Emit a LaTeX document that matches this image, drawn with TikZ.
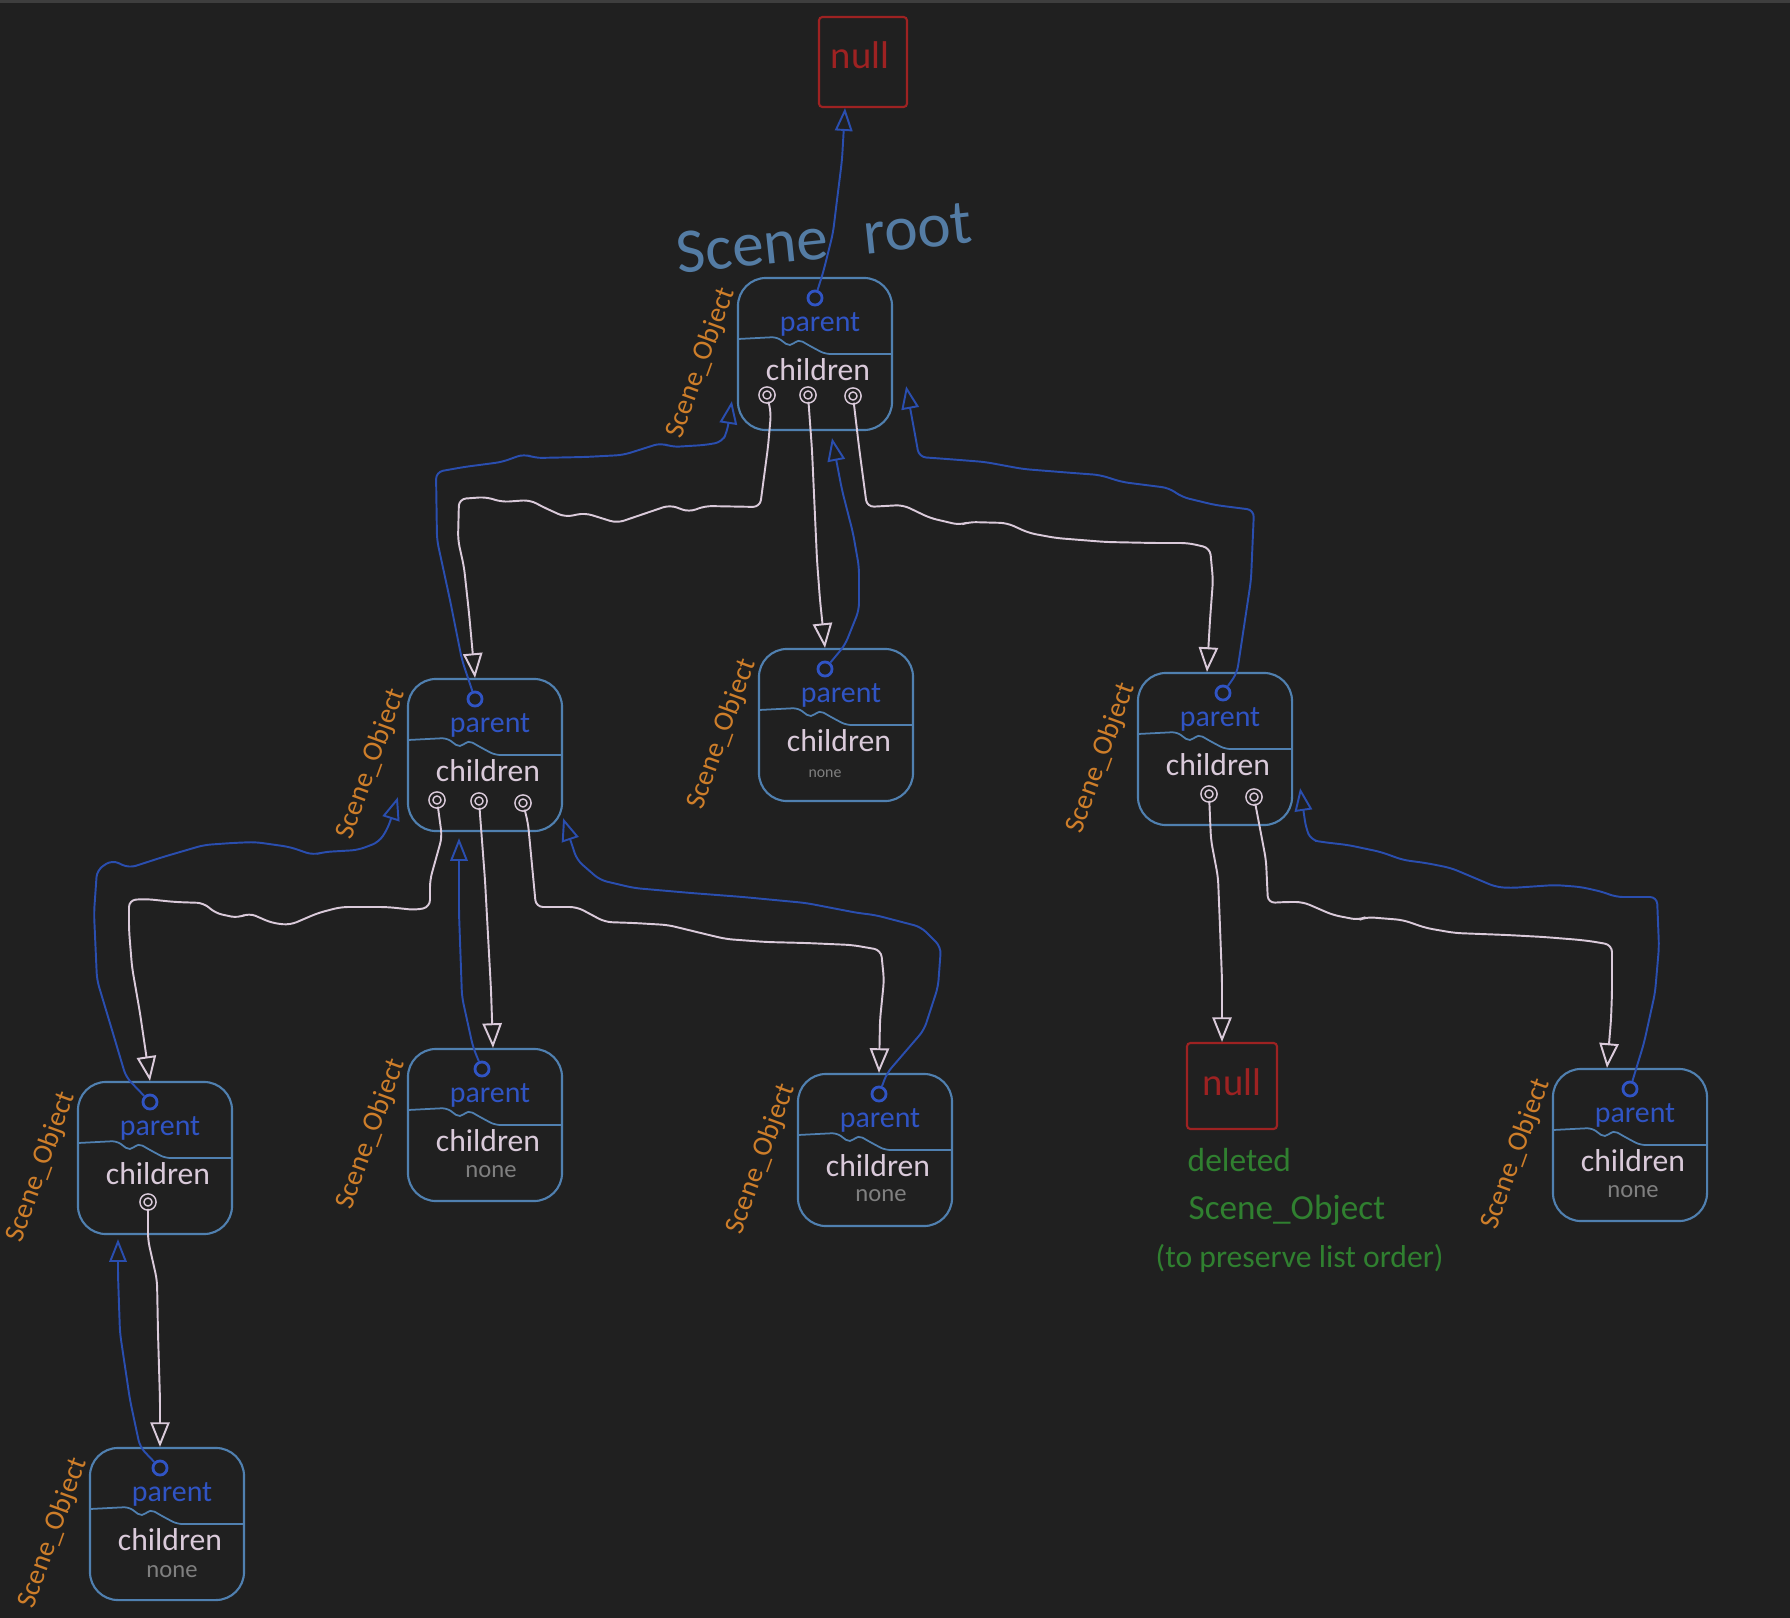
\documentclass[tikz,border=0pt]{standalone}
\usepackage{fontspec}
\setmainfont{Carlito}
\usetikzlibrary{arrows.meta,calc}

\definecolor{bg}{RGB}{32,32,32}
\definecolor{topbar}{RGB}{62,62,62}
\definecolor{boxblue}{RGB}{80,128,176}
\definecolor{parentblue}{RGB}{48,84,196}
\definecolor{linkblue}{RGB}{42,78,175}
\definecolor{childwhite}{RGB}{218,202,218}
\definecolor{nonegray}{RGB}{128,128,128}
\definecolor{soorange}{RGB}{206,126,42}
\definecolor{nullred}{RGB}{158,34,34}
\definecolor{delgreen}{RGB}{48,128,48}
\definecolor{rootblue}{RGB}{84,124,164}

\tikzset{
  objbox/.style={draw=boxblue, line width=0.6pt, minimum width=1.54cm, minimum height=1.52cm,
    inner sep=0pt, rounded corners=8pt},
  nullbox/.style={draw=nullred, line width=0.6pt, inner sep=0pt, rounded corners=1pt},
  pdot/.style={circle, draw=parentblue, line width=0.8pt, inner sep=0pt, minimum size=4pt},
  cdot/.style={circle, draw=childwhite, double=bg, double distance=0.7pt, line width=0.45pt,
    inner sep=0pt, minimum size=3.4pt},
  ptext/.style={text=parentblue, font=\fontsize{8.5}{8.5}\selectfont},
  ctext/.style={text=childwhite, font=\fontsize{9}{9}\selectfont},
  nonetext/.style={text=nonegray, font=\fontsize{7}{7}\selectfont},
  solabel/.style={text=soorange, rotate=70, inner sep=1pt, font=\fontsize{8}{8}\selectfont},
  divider/.style={draw=boxblue, line width=0.5pt, rounded corners=1.5pt},
  childline/.style={draw=childwhite, line width=0.55pt, rounded corners=2pt,
    -{Triangle[open, length=7pt, width=5.5pt]}},
  parentline/.style={draw=linkblue, line width=0.55pt, rounded corners=2pt,
    -{Triangle[open, length=6.5pt, width=5pt]}},
  greentext/.style={text=delgreen, anchor=west, inner sep=0pt}
}

\begin{document}
\begin{tikzpicture}[x=0.01cm,y=-0.01cm]
  % background and top strip
  \fill[bg] (0,0) rectangle (1790,1618);
  \fill[topbar] (0,0) rectangle (1790,3);
  \useasboundingbox (0,0) rectangle (1790,1618);

  % Scene_Object boxes: name / centre x / centre y / parent dot shift
  \foreach \n/\x/\y/\d in {root/815/354/0, ch1/485/755/-10, ch2/836/725/-11,
      ch3/1215/749/8, ch11/155/1158/-5, ch12/485/1125/-3, ch13/875/1150/4,
      ch32/1630/1145/0, ch111/167/1524/-7}{
    \node[objbox] (\n) at (\x,\y) {};
    \node[pdot] (\n-p) at ({\x+\d},{\y-56}) {};
    \node[ptext] (\n-pt) at ({\x+5},{\y-30}) {parent};
    \draw[divider] ({\x-77},{\y-15}) -- ({\x-38},{\y-17}) -- ({\x-25},{\y-7}) -- ({\x-17},{\y-15})
      -- ({\x-5},{\y-8}) -- ({\x+10},{\y}) -- ({\x+77},{\y});
    \node[ctext] (\n-ct) at ({\x+3},{\y+16}) {children};
    \node[solabel] (\n-so) at ({\x-114},{\y+9}) {Scene\_Object};
  }

  % child dots
  \node[cdot] (root-c1) at (767,395) {};
  \node[cdot] (root-c2) at (808,395) {};
  \node[cdot] (root-c3) at (853,396) {};
  \node[cdot] (ch1-c1) at (437,800) {};
  \node[cdot] (ch1-c2) at (479,801) {};
  \node[cdot] (ch1-c3) at (523,803) {};
  \node[cdot] (ch3-c1) at (1209,794) {};
  \node[cdot] (ch3-c2) at (1254,797) {};
  \node[cdot] (ch11-c1) at (148,1202) {};

  % no children
  \node[nonetext, font=\fontsize{4.5}{4.5}\selectfont] (ch2-n) at (825,774) {none};
  \node[nonetext] (ch12-n) at (491,1172) {none};
  \node[nonetext] (ch13-n) at (881,1196) {none};
  \node[nonetext] (ch32-n) at (1633,1192) {none};
  \node[nonetext] (ch111-n) at (172,1572) {none};

  % null boxes
  \node[nullbox, minimum width=0.88cm, minimum height=0.9cm] (nullroot) at (863,62) {};
  \node[text=nullred, font=\fontsize{11}{11}\selectfont] (nullroot-t) at (860,55) {null};
  \node[nullbox, minimum width=0.9cm, minimum height=0.86cm] (nulldel) at (1232,1086) {};
  \node[text=nullred, font=\fontsize{11}{11}\selectfont] (nulldel-t) at (1232,1082) {null};

  % Marking the root
  \node[text=rootblue, rotate=6, inner sep=1pt, font=\fontsize{18}{18}\selectfont] (rootname) at (824,238) {Scene\hspace{10pt}root};

  % Marking the deleted object
  \node[greentext, font=\fontsize{9.5}{9.5}\selectfont] (del1) at (1187,1160) {deleted};
  \node[greentext, font=\fontsize{10}{10}\selectfont] (del2) at (1188,1210) {Scene\_Object};
  \node[greentext, font=\fontsize{9}{9}\selectfont] (del3) at (1155,1258) {(to preserve list order)};

  % Drawing parent of root
  \draw[parentline] (root-p) -- (823,273) -- (833,233) -- (837,200) -- (842,160) -- ($(nullroot.south)+(-18,0)$);

  % Drawing children of root
  \draw[childline] (root-c1) -- (771,413) -- (768,447) -- (760,507) -- (705,506) -- (689,512) -- (670,505)
    -- (617,523) -- (585,513) -- (565,517) -- (543,507) -- (530,500) -- (502,502) -- (486,497) -- (459,499)
    -- (458,540) -- (464,567) -- (469,613) -- (ch1-p |- ch1.north);
  \draw[childline] (root-c2) -- (812,450) -- (817,560) -- (820,600) -- (ch2-p |- ch2.north);
  \draw[childline] (root-c3) -- (859,447) -- (867,507) -- (903,505) -- (930,518) -- (960,525) -- (969,522)
    -- (1007,523) -- (1029,533) -- (1056,538) -- (1106,542) -- (1155,543) -- (1188,543) -- (1210,548)
    -- (1213,580) -- (1210,620) -- ($(ch3.north)+(-8,0)$);

  % Drawing parents of the root's children
  \draw[parentline] (ch1-p) -- (462,660) -- (450,600) -- (437,540) -- (436,472) -- (464,467) -- (502,462)
    -- (524,454) -- (535,458) -- (585,457) -- (623,455) -- (639,450) -- (661,443) -- (672,447) -- (705,445)
    -- (722,442) -- (727,432) -- ($(root.south west)+(-5,-30)$);
  \draw[parentline] (ch2-p) -- (845,645) -- (859,610) -- (859,567) -- (853,533) -- (842,490)
    -- ($(root.south)+(17,7)$);
  \draw[parentline] (ch3-p) -- (1237,673) -- (1251,580) -- (1254,510) -- (1215,505) -- (1182,497)
    -- (1169,488) -- (1122,482) -- (1100,475) -- (1073,473) -- (1023,469) -- (985,462) -- (947,459)
    -- (919,457) -- (916,440) -- ($(root.south east)+(13,-45)$);

  % Drawing children of ch1
  \draw[childline] (ch1-c1) -- (442,837) -- (430,880) -- (430,907) -- (416,910) -- (387,907) -- (341,907)
    -- (318,913) -- (290,925) -- (272,923) -- (249,913) -- (238,918) -- (215,913) -- (204,903) -- (175,902)
    -- (146,899) -- (129,900) -- (129,930) -- (132,967) -- (140,1013) -- (ch11-p |- ch11.north);
  \draw[childline] (ch1-c2) -- (485,880) -- (491,990) -- ($(ch12.north)+(8,0)$);
  \draw[childline] (ch1-c3) -- (528,823) -- (536,907) -- (577,907) -- (605,922) -- (634,923) -- (668,925)
    -- (709,935) -- (726,939) -- (766,942) -- (806,943) -- (852,945) -- (881,950) -- (884,980)
    -- (880,1020) -- (ch13-p |- ch13.north);

  % Drawing parents of ch1's children
  \draw[parentline] (ch11-p) -- (126,1077) -- (112,1030) -- (97,980) -- (94,913) -- (97,870) -- (112,860)
    -- (129,868) -- (163,857) -- (204,845) -- (232,843) -- (255,842) -- (290,847) -- (313,855) -- (324,852)
    -- (358,850) -- (379,842) -- (388,828) -- ($(ch1.south west)+(-9,-35)$);
  \draw[parentline] (ch12-p) -- (473,1047) -- (462,997) -- (459,913) -- ($(ch1.south)+(-26,6)$);
  \draw[parentline] (ch13-p) -- (887,1073) -- (924,1030) -- (938,987) -- (941,947) -- (921,927) -- (875,915)
    -- (858,913) -- (806,903) -- (743,897) -- (691,893) -- (634,888) -- (600,880) -- (577,860)
    -- ($(ch1.south east)+(0,-14)$);

  % Drawing children of ch3
  \draw[childline] (ch3-c1) -- (1211,840) -- (1218,877) -- (1220,927) -- (1222,980) -- ($(nulldel.north)+(-10,0)$);
  \draw[childline] (ch3-c2) -- (1266,860) -- (1268,903) -- (1285,902) -- (1303,902) -- (1333,915)
    -- (1359,920) -- (1366,917) -- (1403,920) -- (1426,928) -- (1455,933) -- (1507,935) -- (1544,937)
    -- (1581,940) -- (1596,942) -- (1612,945) -- (1612,993) -- (1611,1020) -- ($(ch32.north)+(-23,0)$);

  % Drawing parent of ch32
  \draw[parentline] (ch32-p) -- (1644,1043) -- (1655,993) -- (1659,947) -- (1657,897) -- (1616,897)
    -- (1603,892) -- (1581,887) -- (1555,885) -- (1511,888) -- (1496,887) -- (1451,868) -- (1426,863)
    -- (1403,860) -- (1381,852) -- (1348,845) -- (1322,842) -- (1311,840) -- (1306,828)
    -- ($(ch3.south east)+(7,-38)$);

  % Drawing child and parent between ch11 and ch111
  \draw[childline] (ch11-c1) -- (148,1240) -- (157,1280) -- (158,1333) -- (160,1400) -- (ch111-p |- ch111.north);
  \draw[parentline] (ch111-p) -- (140,1447) -- (130,1400) -- (120,1333) -- (118,1275) -- ($(ch11.south)+(-37,4)$);
\end{tikzpicture}
\end{document}
